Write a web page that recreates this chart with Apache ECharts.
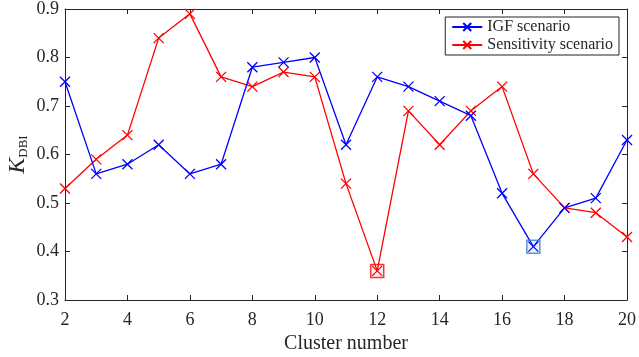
<!DOCTYPE html>
<html><head><meta charset="utf-8">
<script src="https://cdn.jsdelivr.net/npm/echarts@6/dist/echarts.min.js"></script>
<style>html,body{margin:0;padding:0;background:#fff}#c{width:639px;height:357px}</style>
</head><body><div id="c"></div>
<script>
var clusters = [2,3,4,5,6,7,8,9,10,11,12,13,14,15,16,17,18,19,20];
var igf = [0.75,0.56,0.58,0.62,0.56,0.58,0.78,0.79,0.80,0.62,0.76,0.74,0.71,0.68,0.52,0.41,0.49,0.51,0.63];
var sens = [0.53,0.59,0.64,0.84,0.89,0.76,0.74,0.77,0.76,0.54,0.36,0.69,0.62,0.69,0.74,0.56,0.49,0.48,0.43];
var igfMin = [[17,0.41]];
var sensMin = [[12,0.36]];
var xTicks = [2,4,6,8,10,12,14,16,18,20];
var yTicks = [0.3,0.4,0.5,0.6,0.7,0.8,0.9];

var FONT = 'Liberation Serif';
var AX = '#262626';
var cross = 'path://M0,0L10,10M10,0L0,10';
function pairs(xs, ys){ return xs.map(function(x,i){return [x, ys[i]];}); }

var chart = echarts.init(document.getElementById('c'), null, {renderer:'canvas'});
var baseX = {type:'value', min:xTicks[0], max:xTicks[xTicks.length-1], interval:xTicks[1]-xTicks[0],
  axisLine:{show:true, onZero:false, lineStyle:{color:AX, width:1}},
  axisTick:{show:true, inside:true, length:5, lineStyle:{color:AX}},
  splitLine:{show:false}};
var baseY = {type:'value', min:yTicks[0], max:yTicks[yTicks.length-1], interval:0.1,
  axisLine:{show:true, onZero:false, lineStyle:{color:AX, width:1}},
  axisTick:{show:true, inside:true, length:5, lineStyle:{color:AX}},
  splitLine:{show:false}};
chart.setOption({
  animation:false,
  grid:{left:65, right:12, top:9, bottom:57, containLabel:false, outerBoundsMode:'none'},
  xAxis:[
    Object.assign({}, baseX, {position:'bottom',
      axisLabel:{color:AX, fontFamily:FONT, fontSize:18, margin:11},
      name:'Cluster number', nameLocation:'middle', nameGap:34, nameMoveOverlap:false,
      nameTextStyle:{color:AX, fontFamily:FONT, fontSize:20}}),
    Object.assign({}, baseX, {position:'top', axisLabel:{show:false}})
  ],
  yAxis:[
    Object.assign({}, baseY, {position:'left',
      axisLabel:{color:AX, fontFamily:FONT, fontSize:18, margin:6,
        formatter:function(v){return v.toFixed(1);}},
      name:'{k|K}{s|DBI}', nameLocation:'middle', nameGap:35, nameRotate:90, nameMoveOverlap:false,
      nameTextStyle:{color:AX, fontFamily:FONT,
        rich:{k:{fontFamily:FONT, fontStyle:'italic', fontSize:24, color:AX},
              s:{fontFamily:FONT, fontSize:13, color:AX, padding:[12,0,0,0]}}}}),
    Object.assign({}, baseY, {position:'right', axisLabel:{show:false}})
  ],
  legend:{
    data:['IGF scenario','Sensitivity scenario'],
    orient:'vertical', right:20, top:17,
    backgroundColor:'#fff', borderColor:'#222', borderWidth:1,
    padding:[2,6,2,6], itemGap:2, itemWidth:30, itemHeight:10,
    textStyle:{color:AX, fontFamily:FONT, fontSize:16, width:122, align:'center'}
  },
  series:[
    {name:'IGF scenario', type:'line', data:pairs(clusters, igf),
     symbol:cross, symbolSize:10,
     lineStyle:{color:'#0000ff', width:1.3},
     itemStyle:{color:'#0000ff', borderColor:'#0000ff', borderWidth:1.3}, z:3},
    {name:'Sensitivity scenario', type:'line', data:pairs(clusters, sens),
     symbol:cross, symbolSize:10,
     lineStyle:{color:'#ff0000', width:1.3},
     itemStyle:{color:'#ff0000', borderColor:'#ff0000', borderWidth:1.3}, z:2},
    {name:'igfMin', type:'scatter', data:igfMin, symbol:'rect', symbolSize:13,
     itemStyle:{color:'rgba(58,120,216,0.12)', borderColor:'#3a78d8', borderWidth:1.5}, z:4},
    {name:'sensMin', type:'scatter', data:sensMin, symbol:'rect', symbolSize:13,
     itemStyle:{color:'rgba(255,0,0,0.05)', borderColor:'#ff0000', borderWidth:1.5}, z:4}
  ]
});
</script></body></html>
